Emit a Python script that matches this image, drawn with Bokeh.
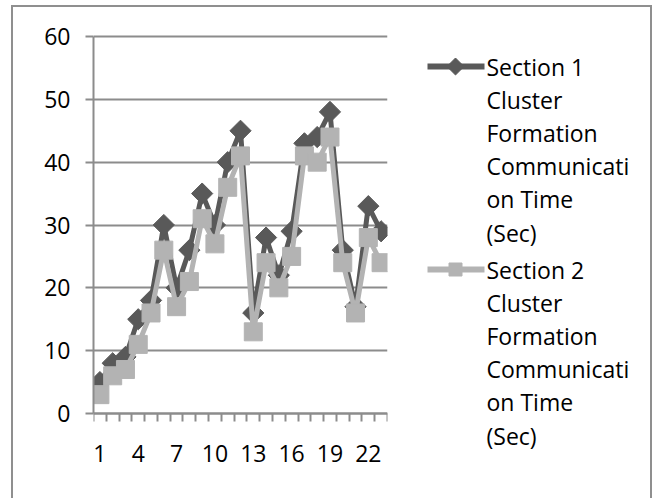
import math
from bokeh.plotting import figure
from bokeh.models import FixedTicker, Range1d
from bokeh.layouts import row
from bokeh.core.properties import value
from bokeh.embed import file_html
from bokeh.resources import INLINE

categories = list(range(1, 24))
section1 = [5, 8, 9, 15, 18, 30, 20, 26, 35, 30, 40, 45, 16, 28, 22, 29, 43, 44, 48, 26, 17, 33, 29]
section2 = [3, 6, 7, 11, 16, 26, 17, 21, 31, 27, 36, 41, 13, 24, 20, 25, 41, 40, 44, 24, 16, 28, 24]
x_tick_labels = [1, 4, 7, 10, 13, 16, 19, 22]
y_ticks = [0, 10, 20, 30, 40, 50, 60]
series_names = [
    "Section 1\nCluster\nFormation\nCommunicati\non Time\n(Sec)",
    "Section 2\nCluster\nFormation\nCommunicati\non Time\n(Sec)",
]

FONT = "Open Sans"
GRID = "#8c8c8c"
DARK = "#595959"
LIGHT = "#b3b3b3"
BORDER = "2px solid #8f8f8f"
H = 491

# plot area in pixels of the canvas: value 60 at 29 px, value 0 at 406 px
PLOT_TOP, PLOT_BOTTOM = 29, 406
ppu = (PLOT_BOTTOM - PLOT_TOP) / (y_ticks[-1] - y_ticks[0])
y_lo = y_ticks[0] - (H - PLOT_BOTTOM) / ppu
y_hi = y_ticks[-1] + PLOT_TOP / ppu

# ---------------- main chart ----------------
p = figure(width=384, height=H, output_backend="svg", toolbar_location=None,
           x_range=Range1d(0.5, 23.5), y_range=Range1d(y_lo, y_hi),
           min_border_left=80, min_border_right=10, min_border_top=0, min_border_bottom=0)
p.outline_line_color = None
p.background_fill_color = "white"
p.border_fill_color = "white"

p.xgrid.visible = False
p.ygrid.ticker = FixedTicker(ticks=y_ticks)
p.ygrid.grid_line_color = GRID
p.ygrid.grid_line_width = 2

boundaries = [c - 0.5 for c in categories] + [categories[-1] + 0.5]
p.xaxis.fixed_location = 0
p.xaxis.ticker = FixedTicker(ticks=x_tick_labels, minor_ticks=boundaries)
p.xaxis.major_tick_line_color = None
p.xaxis.minor_tick_in = 0
p.xaxis.minor_tick_out = 8
p.xaxis.minor_tick_line_color = GRID
p.xaxis.minor_tick_line_width = 2
p.xaxis.major_label_standoff = 23

p.yaxis.bounds = (y_ticks[0], y_ticks[-1])
p.yaxis.ticker = FixedTicker(ticks=y_ticks)
p.yaxis.major_tick_in = 0
p.yaxis.major_tick_out = 8
p.yaxis.major_tick_line_color = GRID
p.yaxis.major_tick_line_width = 2
p.yaxis.minor_tick_line_color = None
p.yaxis.major_label_standoff = 15

for ax in (p.xaxis, p.yaxis):
    ax.axis_line_color = GRID
    ax.axis_line_width = 2
    ax.major_label_text_font = FONT
    ax.major_label_text_font_size = "23px"
    ax.major_label_text_color = "black"

p.line(categories, section1, line_width=5, color=DARK)
p.scatter(categories, section1, marker="square", angle=math.pi / 4, size=15, color=DARK)
p.line(categories, section2, line_width=5, color=LIGHT)
p.scatter(categories, section2, marker="square", size=18, color=LIGHT)

# ---------------- legend panel ----------------
LW = 637 - 384
lg = figure(width=LW, height=H, output_backend="svg", toolbar_location=None,
            x_range=Range1d(0, LW), y_range=Range1d(H, 0),
            x_axis_type=None, y_axis_type=None, min_border=0)
lg.outline_line_color = None
lg.xgrid.visible = False
lg.ygrid.visible = False
lg.background_fill_color = "white"
lg.border_fill_color = "white"

first_line_y = [59, 262]
line_step = 33.2
marker_styles = [(DARK, math.pi / 4, 12), (LIGHT, 0, 13)]
for name, y0, (col, ang, sz) in zip(series_names, first_line_y, marker_styles):
    lg.line([30, 87], [y0, y0], line_width=6, color=col)
    lg.scatter([58], [y0], marker="square", angle=ang, size=sz, color=col)
    lines = name.split("\n")
    lg.text(x=[89] * len(lines), y=[y0 + i * line_step for i in range(len(lines))], text=lines,
            text_font=value(FONT), text_font_size="23px", text_baseline="middle",
            text_align="left", text_color="black")

layout = row(p, lg, spacing=0)
layout.styles = {"margin-left": "11px", "margin-top": "5px",
                 "border-left": BORDER, "border-top": BORDER, "border-right": BORDER}

open("out.html", "w").write(file_html(layout, INLINE))
